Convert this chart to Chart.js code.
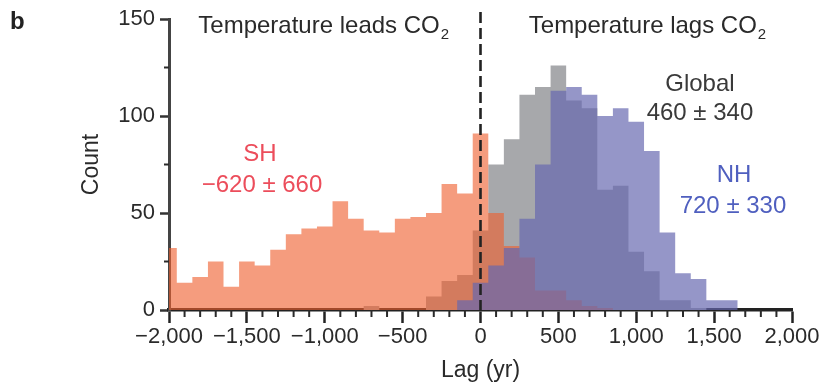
<!DOCTYPE html>
<html>
<head>
<meta charset="utf-8">
<style>
  html, body { margin: 0; padding: 0; background: #fff; }
  #wrap { width: 821px; height: 385px; }
</style>
<script src="https://cdn.jsdelivr.net/npm/chart.js@4.4.1/dist/chart.umd.min.js"></script>
</head>
<body>
<div id="wrap"><canvas id="chart" width="821" height="385"></canvas></div>
<script>
// histogram bins (lag in years, bin centres) and counts per region
const lagBins = [-2000, -1900, -1800, -1700, -1600, -1500, -1400, -1300, -1200, -1100,
                 -1000, -900, -800, -700, -600, -500, -400, -300, -200, -100,
                 0, 100, 200, 300, 400, 500, 600, 700, 800, 900,
                 1000, 1100, 1200, 1300, 1400, 1500, 1600];
const shCounts = [32, 14, 17, 25, 12, 25, 23, 31, 39, 42,
                  43, 56, 47, 41, 40, 47, 48, 50, 65, 60,
                  91, 50, 33, 27, 10, 10, 5, 2, 1, 0,
                  0, 0, 0, 0, 0, 0, 0];
const globalCounts = [0, 0, 0, 0, 0, 0, 0, 0, 0, 0,
                      0, 0, 0, 2, 0, 0, 0, 7, 15, 18,
                      41, 75, 88, 111, 115, 126, 108, 104, 62, 64,
                      30, 20, 5, 5, 1, 0, 0];
const nhCounts = [0, 0, 0, 0, 0, 0, 0, 0, 0, 0,
                  0, 0, 0, 0, 0, 0, 0, 0, 0, 5,
                  14, 23, 32, 47, 75, 113, 115, 111, 100, 104,
                  97, 82, 40, 19, 16, 5, 5];
const xTickValues = [-2000, -1500, -1000, -500, 0, 500, 1000, 1500, 2000];
const yTickValues = [0, 50, 100, 150];

const FONT = '"Liberation Sans", Arial, Helvetica, sans-serif';
const INK = '#2a2a2a';

// histogram outline: counts at bin centres, closed with an empty bin on each side
// so the stepped fill gets its outer edges
function toSteps(counts) {
  const w = lagBins[1] - lagBins[0];
  const pts = lagBins.map((x, i) => ({x: x, y: counts[i]}));
  pts.unshift({x: lagBins[0] - w, y: 0});
  pts.push({x: lagBins[lagBins.length - 1] + w, y: 0});
  return pts;
}

function fmtLag(v) {
  const s = Math.abs(v).toLocaleString('en-US');
  return v < 0 ? '\u2212' + s : s;
}

// labels placed in data space (years, count)
const notes = [
  {text: 'Temperature leads CO', sub: '2', x: -1010, y: 146, color: INK},
  {text: 'Temperature lags CO', sub: '2', x: 1069, y: 146, color: INK},
  {text: 'SH', x: -1416, y: 80, color: '#ec4d5b'},
  {text: '\u2212620 \u00b1 660', x: -1403, y: 64.4, color: '#ec4d5b'},
  {text: 'Global', x: 1409, y: 116.5, color: '#3a3a3a'},
  {text: '460 \u00b1 340', x: 1409, y: 101.5, color: '#3a3a3a'},
  {text: 'NH', x: 1628, y: 69.6, color: '#4f5fbf'},
  {text: '720 \u00b1 330', x: 1621, y: 53.6, color: '#4f5fbf'}
];

const extras = {
  id: 'extras',
  afterDatasetsDraw(chart) {
    const {ctx, chartArea, scales: {x}} = chart;
    // dashed zero-lag line
    const x0 = x.getPixelForValue(0);
    ctx.save();
    ctx.strokeStyle = '#222';
    ctx.lineWidth = 2.6;
    ctx.setLineDash([11, 5]);
    ctx.beginPath();
    ctx.moveTo(x0, 12);
    ctx.lineTo(x0, chartArea.bottom);
    ctx.stroke();
    ctx.restore();
  },
  afterDraw(chart) {
    const {ctx, chartArea, scales: {x, y}} = chart;
    ctx.save();
    // minor ticks
    ctx.strokeStyle = '#2a2a2a';
    ctx.lineWidth = 2;
    for (let v = -1900; v < 2000; v += 100) {
      if (v % 500 === 0) continue;
      const px = x.getPixelForValue(v);
      ctx.beginPath();
      ctx.moveTo(px, chartArea.bottom);
      ctx.lineTo(px, chartArea.bottom + 7);
      ctx.stroke();
    }
    for (const v of [25, 75, 125]) {
      const py = y.getPixelForValue(v);
      ctx.beginPath();
      ctx.moveTo(chartArea.left - 5, py);
      ctx.lineTo(chartArea.left, py);
      ctx.stroke();
    }
    // text notes
    ctx.textBaseline = 'middle';
    for (const n of notes) {
      const px = x.getPixelForValue(n.x);
      const py = y.getPixelForValue(n.y);
      ctx.font = '24px ' + FONT;
      ctx.fillStyle = n.color;
      if (n.sub) {
        const w = ctx.measureText(n.text).width;
        ctx.font = '15px ' + FONT;
        const ws = ctx.measureText(n.sub).width;
        const left = px - (w + ws) / 2;
        ctx.font = '24px ' + FONT;
        ctx.textAlign = 'left';
        ctx.fillText(n.text, left, py);
        ctx.font = '15px ' + FONT;
        ctx.fillText(n.sub, left + w + 1, py + 8);
      } else {
        ctx.textAlign = 'center';
        ctx.fillText(n.text, px, py);
      }
    }
    // panel letter
    ctx.font = 'bold 24px ' + FONT;
    ctx.fillStyle = '#222';
    ctx.textAlign = 'left';
    ctx.fillText('b', 10, 22);
    ctx.restore();
  }
};

const stepStyle = {
  stepped: 'middle',
  fill: 'origin',
  borderWidth: 0,
  pointRadius: 0,
  clip: false
};

new Chart(document.getElementById('chart'), {
  type: 'line',
  data: {
    datasets: [
      Object.assign({label: 'NH', data: toSteps(nhCounts), backgroundColor: 'rgba(101, 103, 175, 0.69)'}, stepStyle),
      Object.assign({label: 'SH', data: toSteps(shCounts), backgroundColor: 'rgba(239, 95, 47, 0.62)'}, stepStyle),
      Object.assign({label: 'Global', data: toSteps(globalCounts), backgroundColor: '#a7a8ab'}, stepStyle)
    ]
  },
  options: {
    responsive: false,
    animation: false,
    layout: {padding: {top: 19, right: 29, bottom: 0, left: 0}},
    plugins: {
      legend: {display: false},
      tooltip: {enabled: false}
    },
    scales: {
      x: {
        type: 'linear',
        min: -2000,
        max: 2000,
        offset: false,
        z: 1,
        afterBuildTicks: s => { s.ticks = xTickValues.map(v => ({value: v})); },
        afterFit: s => { s.height = 75; s.paddingLeft = 0; s.paddingRight = 0; },
        grid: {drawOnChartArea: false, drawTicks: true, offset: false, tickLength: 13, tickWidth: 2.5, tickColor: '#222'},
        border: {display: true, color: '#222', width: 3.5},
        ticks: {
          maxRotation: 0,
          autoSkip: false,
          padding: 1,
          color: INK,
          font: {family: FONT, size: 22},
          callback: v => fmtLag(v)
        },
        title: {
          display: true,
          text: 'Lag (yr)',
          color: INK,
          font: {family: FONT, size: 23},
          padding: {top: 0, bottom: 1}
        }
      },
      y: {
        min: 0,
        max: 150,
        z: 1,
        afterBuildTicks: s => { s.ticks = yTickValues.map(v => ({value: v})); },
        afterFit: s => { s.width = 169; s.paddingTop = 0; s.paddingBottom = 0; },
        grid: {drawOnChartArea: false, drawTicks: true, tickLength: 9, tickWidth: 2.5, tickColor: '#333'},
        border: {display: true, color: '#444', width: 3},
        ticks: {
          padding: 5,
          color: INK,
          font: {family: FONT, size: 22}
        },
        title: {
          display: true,
          text: 'Count',
          color: INK,
          font: {family: FONT, size: 23},
          padding: {top: 78, bottom: 0}
        }
      }
    }
  },
  plugins: [extras]
});
</script>
</body>
</html>
